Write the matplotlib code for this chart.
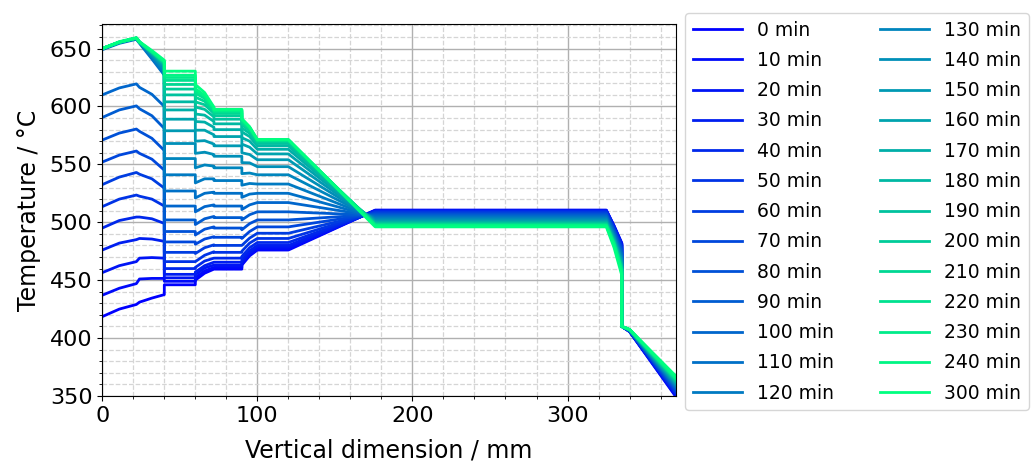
import numpy as np
import matplotlib.pyplot as plt
from matplotlib.ticker import MultipleLocator

# time steps of the heating run (min)
times = [0, 10, 20, 30, 40, 50, 60, 70, 80, 90, 100, 110, 120,
         130, 140, 150, 160, 170, 180, 190, 200, 210, 220, 230, 240, 300]

# positions along the stack (mm) where the profile is sampled
x_nodes = [0, 11, 22, 24, 32, 40, 40, 60, 60, 66, 72, 72, 90, 90, 95, 100, 120,
           176, 325, 330, 335, 335, 340, 370]

# temperatures (°C) at the sample positions, one entry per time step
t_bottom = [418.5, 437, 456.5, 476, 495, 513.5, 532.5, 552, 571, 590.5, 610, 649, 649.5,
            650, 650, 650, 650, 650, 650, 650, 650, 650, 650, 650, 650, 650]
t_11 = [425, 443, 462.5, 482, 501.5, 520, 539, 558, 577, 597, 616, 654.5, 655,
        655.5, 655.5, 655.5, 655.5, 655.5, 655.5, 655.5, 655.5, 655.5, 655.5, 655.5, 655.5, 656]
t_22 = [429, 447, 466, 485, 504.5, 523.5, 543, 561.5, 580.5, 600.5, 619.5, 658, 658.5,
        659, 659, 659, 659, 659, 659, 659, 659, 659, 659, 659, 659, 659.5]
t_24 = [431, 451, 469, 486, 504.5, 522.5, 541.5, 559.5, 578.5, 598, 616.5, 654.5, 655,
        655.5, 655.5, 655.5, 655.5, 655.5, 655.5, 655.5, 655.5, 655.5, 655.5, 655.5, 655.5, 656]
t_32 = [434.5, 451.5, 469.5, 485.5, 503, 520, 537.5, 554.5, 572.5, 592, 610.5, 641, 642.5,
        643.5, 644.5, 645, 645.5, 646, 646.5, 646.5, 647, 647, 647.2, 647.3, 647.5, 648.3]
t_40 = [437.5, 451.5, 469, 483.5, 499, 514, 529.5, 545, 562, 581, 600, 627, 629,
        631, 632.5, 634, 635, 636, 636.5, 637, 637.5, 638, 638.3, 638.6, 639, 640]
plate_1 = [446, 449, 452, 455, 460, 466, 474, 483, 492, 502, 514, 527, 541,
           555, 568, 579, 589, 597, 604, 610, 615, 619, 622.5, 625, 627, 630.5]
gap_60 = [450, 452, 454.5, 457, 461, 466, 473, 481, 489, 498, 509, 521, 534,
          547, 559.5, 570, 579.5, 587, 593.5, 599.5, 604, 608, 611.5, 613.5, 615.5, 619]
gap_66 = [456, 458, 460.5, 462.5, 466.5, 471.5, 478, 485.5, 494, 503, 513.5, 525, 537.5,
          549.5, 560.5, 570.5, 579.5, 586.5, 592.5, 597.5, 601.5, 604.5, 607, 608.5, 609.5, 612]
gap_72 = [459.5, 461, 463, 465.5, 469, 474.5, 480.5, 487.5, 496, 505, 515, 526, 537.5,
          548.5, 558.5, 567.5, 575.5, 582, 587, 591, 594, 596, 597.5, 598.5, 599, 599.5]
plate_2 = [459.5, 461, 463, 465.5, 469, 474, 480, 487, 495, 504, 514, 525, 536,
           547, 557, 566, 574, 580, 585, 589, 592, 594, 595.5, 596.5, 597, 597.5]
gap_90 = [463, 464, 465.5, 467.5, 470.5, 475, 480, 486, 493.5, 502, 511, 521.5, 532,
          542, 551.5, 560, 567.5, 573, 578, 581.5, 584.5, 586, 587.5, 588.5, 589, 589.5]
gap_95 = [471, 472, 473.5, 475.3, 478, 482, 486.3, 492, 498.8, 506.5, 515, 524.3, 533.5,
          542.5, 551.3, 558.5, 564.8, 570, 574, 576.8, 579, 580.2, 581.2, 581.8, 582.2, 582.5]
plate_3 = [476, 477, 478.5, 480, 482.5, 486, 490.5, 496, 502, 509, 517, 525, 533,
           541, 548, 554, 559, 563, 566, 568, 569.5, 570.3, 570.8, 571.1, 571.3, 571.5]
t_core = [510.5, 510.3, 510, 509.7, 509.3, 508.8, 508.2, 507.5, 506.8, 506, 505.2, 504.4, 503.6,
          502.8, 502, 501.3, 500.6, 500, 499.4, 498.9, 498.4, 498, 497.6, 497.3, 497, 496]
t_330 = [497, 496.7, 496.3, 495.9, 495.4, 494.8, 494.1, 493.3, 492.5, 491.6, 490.7, 489.8, 488.9,
         488, 487.1, 486.3, 485.5, 484.7, 484, 483.3, 482.7, 482.1, 481.5, 481, 480.5, 478]
t_335 = [482, 481.5, 481, 480.3, 479.5, 478.6, 477.6, 476.5, 475.3, 474, 472.7, 471.4, 470,
         468.7, 467.4, 466.2, 465, 463.8, 462.7, 461.7, 460.7, 459.8, 458.9, 458, 457.2, 454]
t_lid = [410, 410, 410, 410, 410, 410, 410, 410, 410, 410, 410, 410, 410,
         410, 410, 410, 410, 410, 410, 410, 410, 410, 410, 410, 410, 410]
t_340 = [405.5, 405.6, 405.7, 405.8, 405.9, 406, 406.1, 406.2, 406.3, 406.4, 406.5, 406.6, 406.7,
         406.8, 406.9, 407, 407, 407.1, 407.1, 407.2, 407.2, 407.3, 407.3, 407.4, 407.4, 407.5]
t_top = [349, 349.8, 350.6, 351.4, 352.2, 353, 353.8, 354.6, 355.4, 356.1, 356.8, 357.5, 358.2,
         358.9, 359.6, 360.3, 361, 361.7, 362.3, 362.9, 363.5, 364, 364.5, 365, 365.5, 367]

colors = plt.cm.winter(np.linspace(0, 1, len(times)))

fig = plt.figure(figsize=(10.33, 4.62), dpi=100)
ax = fig.add_axes([0.099, 0.143, 0.5555, 0.8045])

for i, t in enumerate(times):
    profile = [t_bottom[i], t_11[i], t_22[i], t_24[i], t_32[i], t_40[i],
               plate_1[i], plate_1[i], gap_60[i], gap_66[i], gap_72[i],
               plate_2[i], plate_2[i], gap_90[i], gap_95[i],
               plate_3[i], plate_3[i], t_core[i], t_core[i],
               t_330[i], t_335[i], t_lid[i], t_340[i], t_top[i]]
    ax.plot(x_nodes, profile, color=colors[i], lw=2, label=f"{t} min")

ax.set_xlim(0, 370)
ax.set_ylim(350, 671)
ax.xaxis.set_major_locator(MultipleLocator(100))
ax.xaxis.set_minor_locator(MultipleLocator(20))
ax.yaxis.set_major_locator(MultipleLocator(50))
ax.yaxis.set_minor_locator(MultipleLocator(10))
ax.grid(which="major", color="#b0b0b0", lw=1.0)
ax.grid(which="minor", color="#d5d5d5", ls="--", lw=0.9)
ax.set_axisbelow(True)
ax.tick_params(labelsize=16)
ax.set_xlabel("Vertical dimension / mm", fontsize=17, labelpad=9)
ax.set_ylabel("Temperature / °C", fontsize=17, labelpad=6)

ax.legend(loc="upper left", bbox_to_anchor=(1.016, 1.03), borderaxespad=0,
          ncol=2, fontsize=13.5, labelspacing=0.6, columnspacing=2.5,
          handlelength=2.6)

fig.savefig("out.png", dpi=100)
